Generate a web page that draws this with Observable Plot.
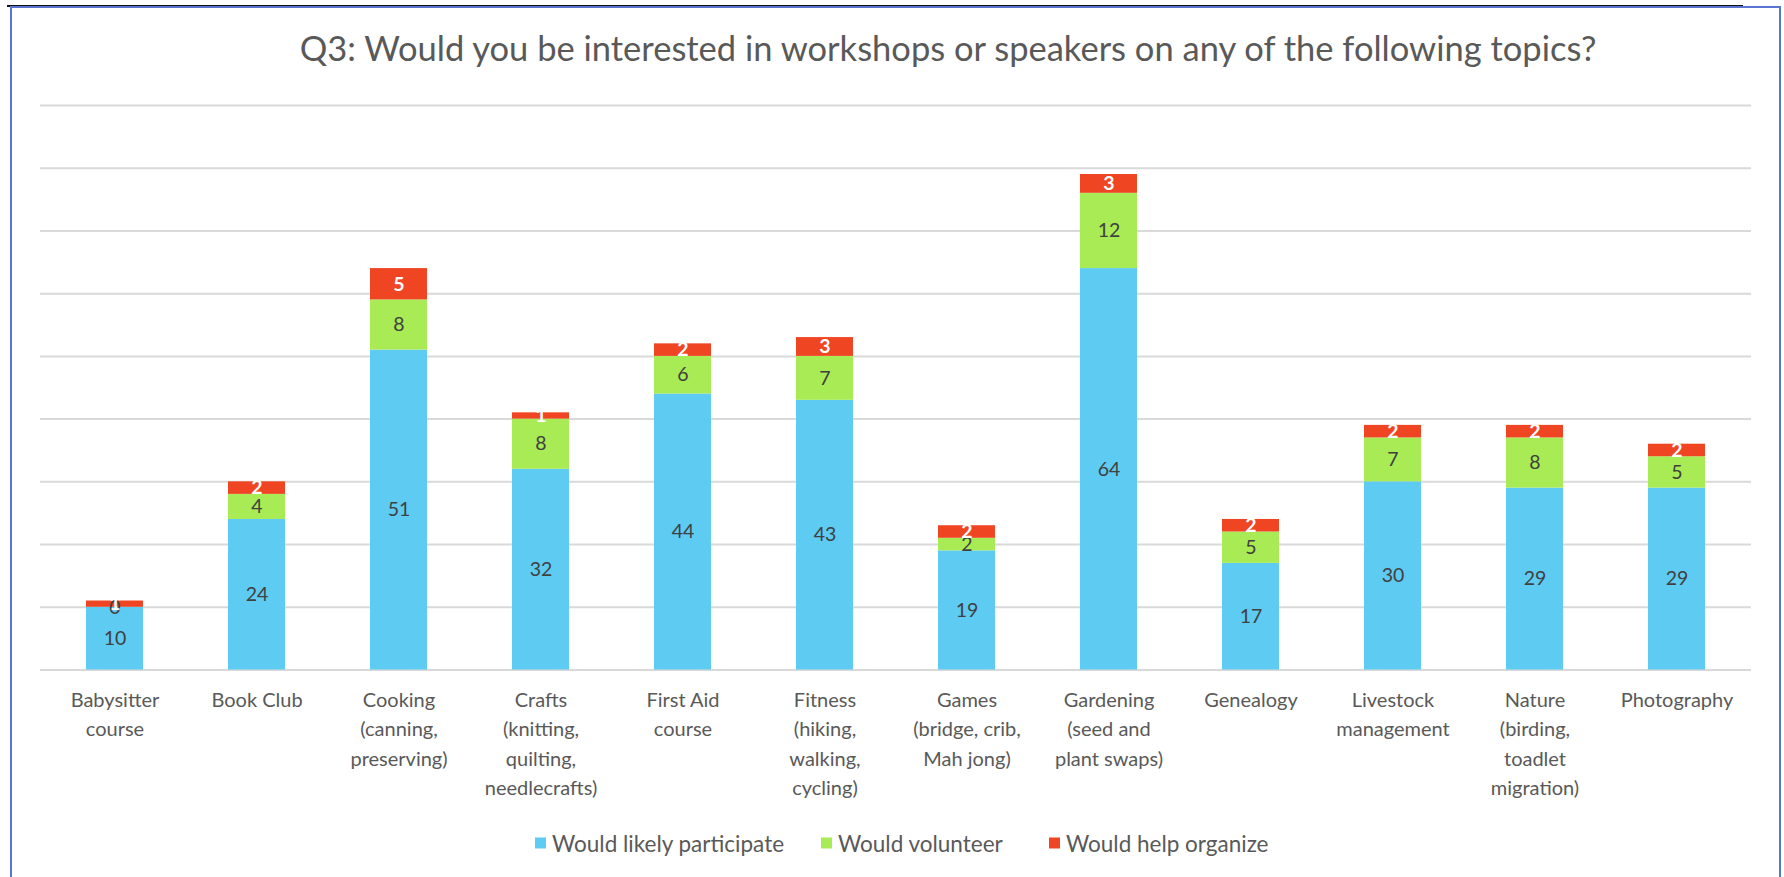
<!DOCTYPE html>
<html><head><meta charset="utf-8">
<script src="https://cdn.jsdelivr.net/npm/d3@7"></script>
<script src="https://cdn.jsdelivr.net/npm/@observablehq/plot@0.6"></script>
<style>
body{margin:0;background:#fff;}
#wrap{position:relative;width:1784px;height:877px;overflow:hidden;font-family:Lato, sans-serif;background:#fff;}
#wrap svg{position:absolute;left:0;top:0;}
.line{position:absolute;}
#title{position:absolute;left:948px;top:47px;transform:translate(-50%,-50%);white-space:nowrap;font-size:34.5px;color:#595959;}
.lg{position:absolute;top:843px;transform:translateY(-50%);display:flex;align-items:center;font-size:22.5px;color:#595959;white-space:nowrap;}
.lg span.sw{display:inline-block;width:11px;height:11px;margin-right:6px;}
</style></head><body><div id="wrap"></div><script>
const categories = ["Babysitter\ncourse","Book Club","Cooking\n(canning,\npreserving)","Crafts\n(knitting,\nquilting,\nneedlecrafts)","First Aid\ncourse","Fitness\n(hiking,\nwalking,\ncycling)","Games\n(bridge, crib,\nMah jong)","Gardening\n(seed and\nplant swaps)","Genealogy","Livestock\nmanagement","Nature\n(birding,\ntoadlet\nmigration)","Photography"];
const seriesNames = ["Would likely participate","Would volunteer","Would help organize"];
const participate = [10,24,51,32,44,43,19,64,17,30,29,29];
const volunteer = [0,4,8,8,6,7,2,12,5,7,8,5];
const organize = [1,2,5,1,2,3,2,3,2,2,2,2];
const seriesColors = ["#5ecbf3","#a9eb54","#f04523"];
const yTicks = [0,10,20,30,40,50,60,70,80,90];
const titleText = "Q3: Would you be interested in workshops or speakers on any of the following topics?";

const seriesValues = [participate, volunteer, organize];
const rows = [];
categories.forEach((c,i)=>seriesNames.forEach((s,j)=>rows.push({cat:c, series:s, value:seriesValues[j][i]})));

const wrap = document.getElementById("wrap");
const chart = Plot.plot({
  width:1784, height:877,
  marginLeft:40, marginRight:33, marginTop:105, marginBottom:207.5,
  style:{background:"transparent", fontFamily:"Lato, sans-serif"},
  x:{domain:categories, paddingInner:0.6, paddingOuter:0.3, axis:null},
  y:{domain:[0,90], axis:null},
  color:{domain:seriesNames, range:seriesColors},
  marks:[
    Plot.ruleY(yTicks,{stroke:"#d9d9d9", strokeWidth:2}),
    Plot.barY(rows,{x:"cat", y:"value", fill:"series", order:seriesNames}),
    Plot.text(rows, Plot.stackY({x:"cat", y:"value", z:"series", order:seriesNames,
      text:d=>d.series===seriesNames[2]?"":String(d.value), fill:"#404040", fontSize:19.5})),
    Plot.text(rows, Plot.stackY({x:"cat", y:"value", z:"series", order:seriesNames,
      text:d=>d.series===seriesNames[2]?String(d.value):"", fill:"white", fontWeight:"bold", fontSize:19.5})),
    Plot.axisX({tickSize:0, tickPadding:16, fontSize:20, lineHeight:1.47, color:"#595959", label:null})
  ]
});
wrap.appendChild(chart);

const t = document.createElement("div"); t.id="title"; t.textContent=titleText; wrap.appendChild(t);
const lgX = [535, 821, 1049];
seriesNames.forEach((s,j)=>{
  const d=document.createElement("div"); d.className="lg"; d.style.left=lgX[j]+"px";
  const sw=document.createElement("span"); sw.className="sw"; sw.style.background=seriesColors[j];
  d.appendChild(sw); d.appendChild(document.createTextNode(s)); wrap.appendChild(d);
});
function line(l,t,w,h,c){const e=document.createElement("div");e.className="line";Object.assign(e.style,{left:l+"px",top:t+"px",width:w+"px",height:h+"px",background:c});wrap.appendChild(e);}
line(7,5,1736,2,"#111");
line(10,6,1771,2,"#5b74d4");
line(10,6,2,871,"#5b74d4");
line(1779,6,2,871,"#5b74d4");
</script></body></html>
